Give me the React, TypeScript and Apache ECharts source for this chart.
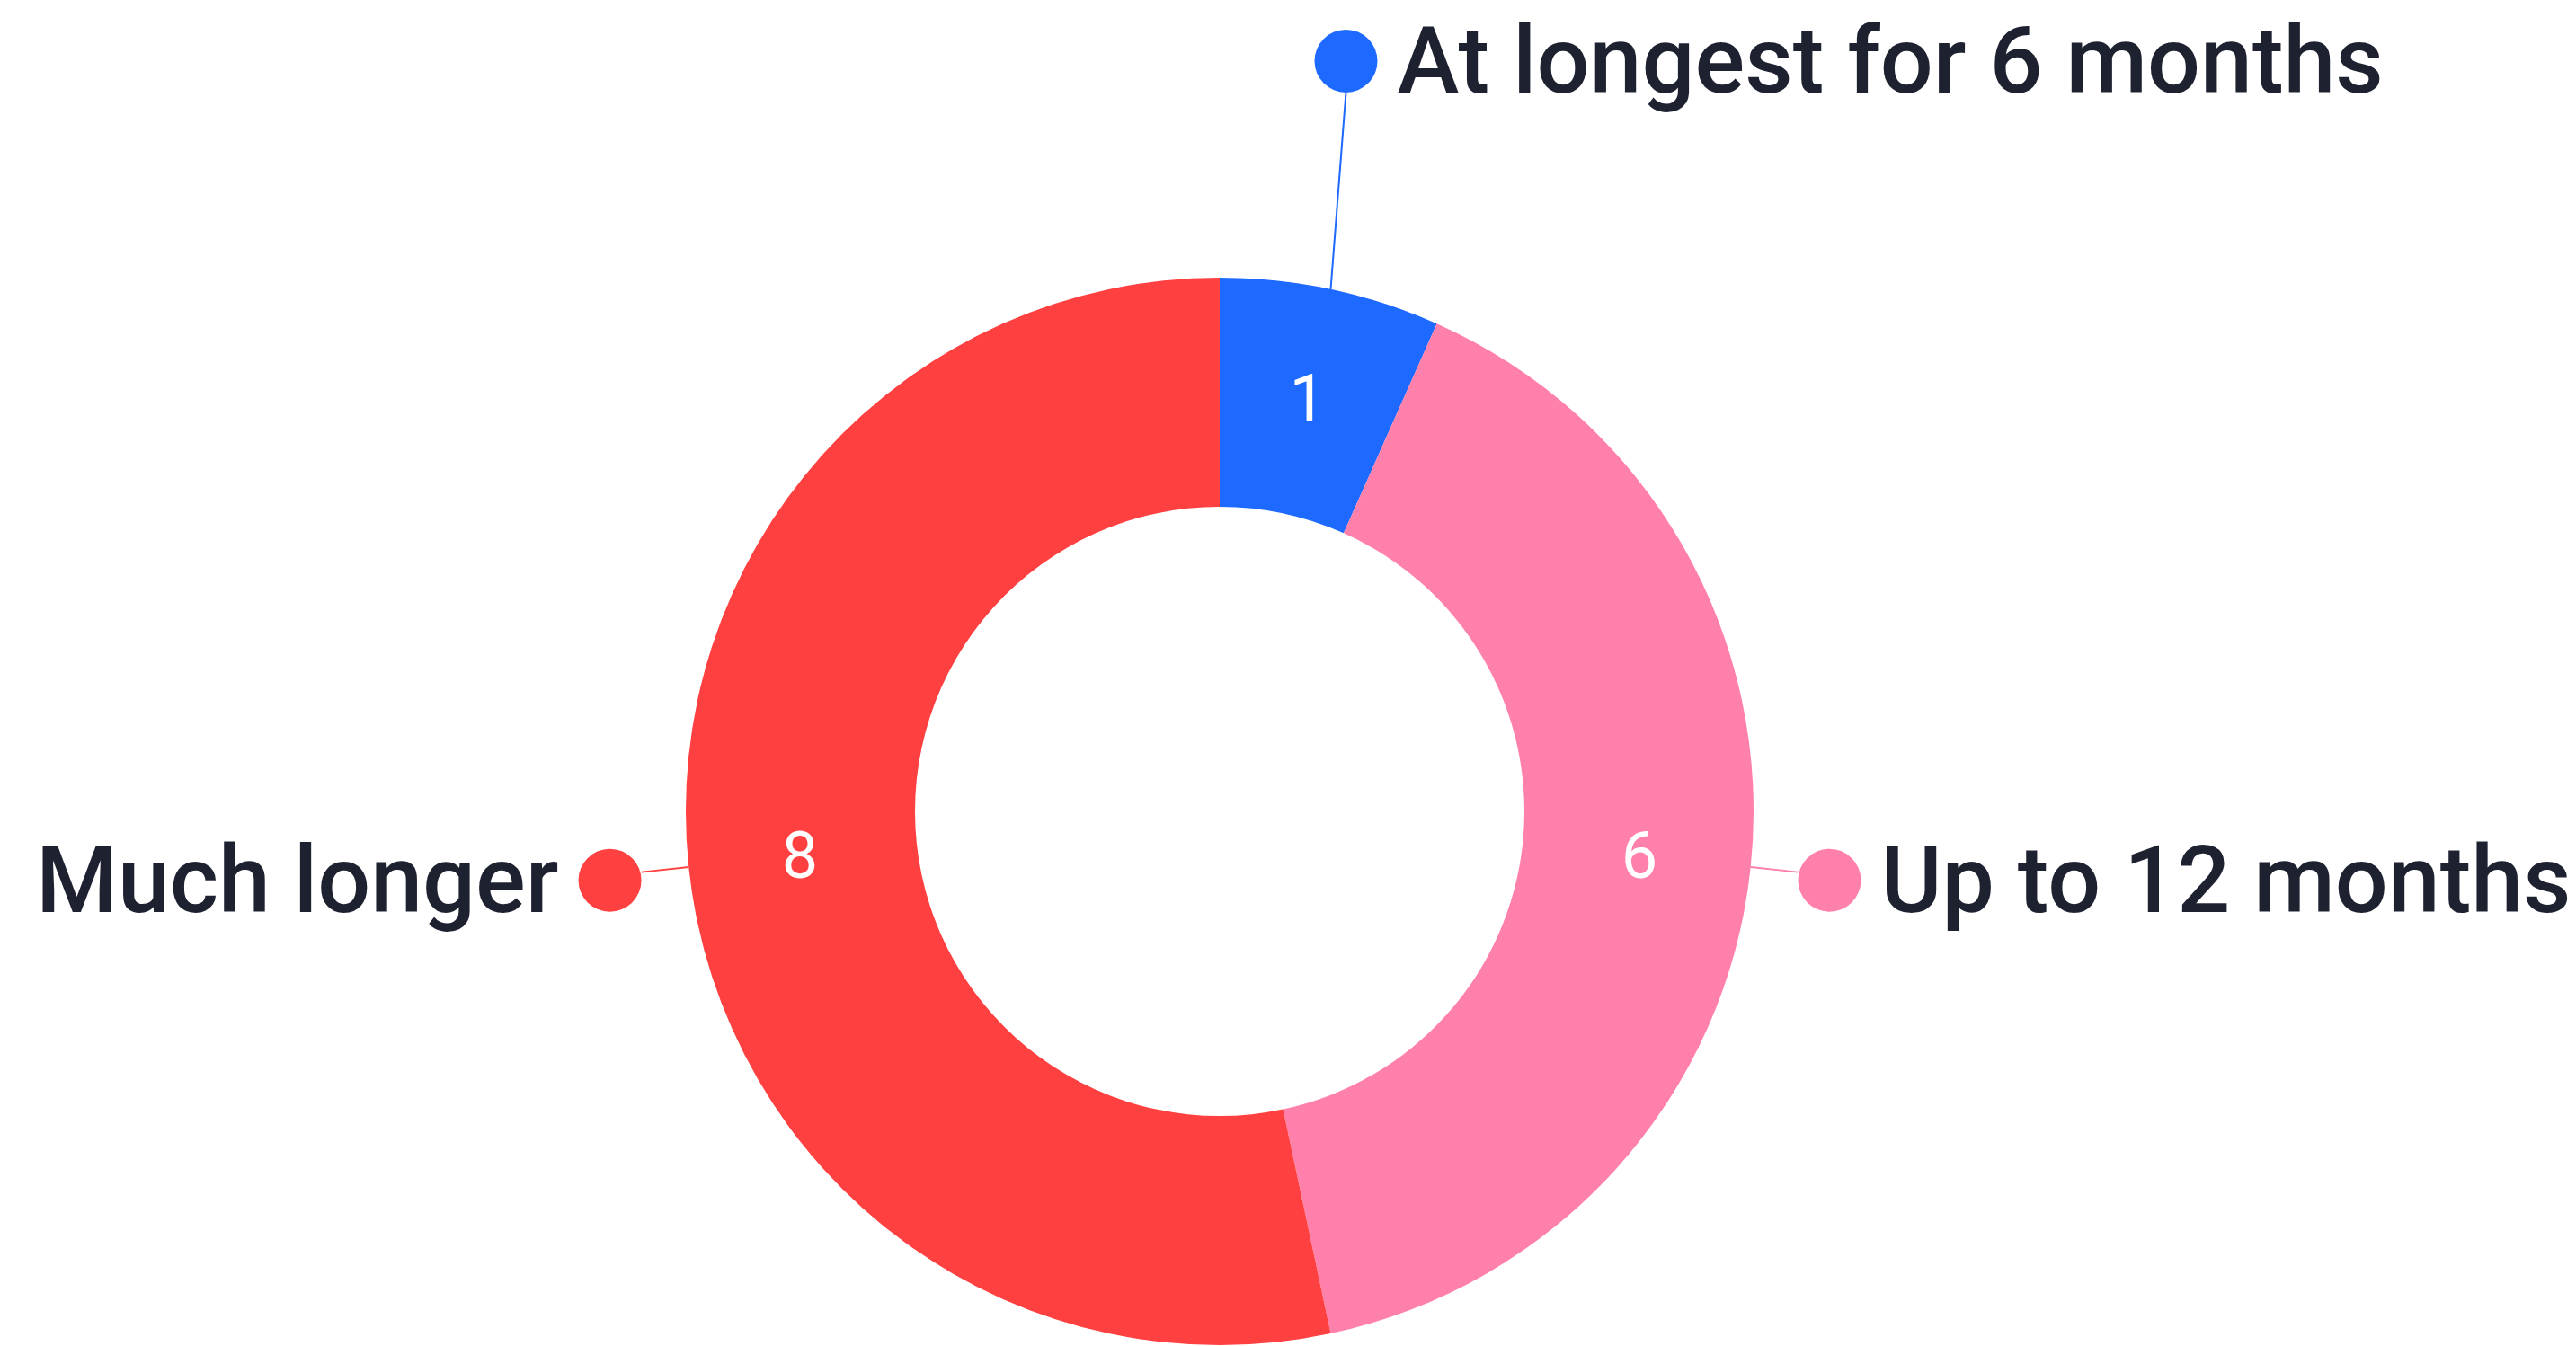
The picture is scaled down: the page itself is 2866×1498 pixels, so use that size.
import React, { useEffect, useRef } from "react";
import * as echarts from "echarts";

const categories = ["At longest for 6 months", "Up to 12 months", "Much longer"];
const values = [1, 6, 8];
const colors = ["#1e69ff", "#ff80aa", "#ff4040"];
const lineLengths = [224, 53, 53];

const TEXT_COLOR = "#1e2230";
const FONT = "Roboto";
const DOT = 70;

export default function App() {
  const ref = useRef<HTMLDivElement>(null);
  useEffect(() => {
    if (!ref.current) return;
    const chart = echarts.init(ref.current, null, { renderer: "svg" });
    const rich: any = {
      t: { fontSize: 104, fontFamily: FONT, fontWeight: 500, color: TEXT_COLOR, verticalAlign: "middle", lineHeight: 100 },
      g: { width: 22, height: 10, verticalAlign: "middle" },
    };
    colors.forEach((c, i) => {
      rich["dot" + i] = { width: DOT, height: DOT, borderRadius: DOT / 2, backgroundColor: c, verticalAlign: "middle" };
    });
    chart.setOption({
      animation: false,
      backgroundColor: "#ffffff",
      series: [
        {
          type: "pie",
          center: [1357, 903],
          radius: [339, 594],
          startAngle: 90,
          clockwise: true,
          avoidLabelOverlap: false,
          silent: true,
          data: categories.map((name, i) => ({
            name,
            value: values[i],
            itemStyle: { color: colors[i] },
            labelLine: { length: lineLengths[i], length2: 0 },
          })),
          label: {
            show: true,
            position: "outside",
            distanceToLabelLine: 0,
            width: 1000,
            overflow: "none",
            formatter: (p: any) =>
              p.dataIndex === 2
                ? `{t|${p.name}}{g|}{dot${p.dataIndex}|}`
                : `{dot${p.dataIndex}|}{g|}{t|${p.name}}`,
            rich,
          },
          labelLine: { show: true, smooth: false, lineStyle: { width: 2 } },
          labelLayout: (params: any) => {
            const pts = params.labelLinePoints;
            if (!pts) return {};
            if (params.dataIndex === 0) {
              const start = pts[0];
              const endY = pts[1][1];
              const lineX = start[0] + 17;
              return {
                x: lineX - DOT / 2,
                y: endY - DOT / 2,
                labelLinePoints: [start, [lineX, endY], [lineX, endY]],
              };
            }
            return { dy: 9, labelLinePoints: pts };
          },
        },
        {
          type: "pie",
          center: [1357, 903],
          radius: [339, 594],
          startAngle: 90,
          clockwise: true,
          silent: true,
          data: categories.map((name, i) => ({
            name,
            value: values[i],
            itemStyle: { color: "rgba(0,0,0,0)" },
          })),
          label: {
            show: true,
            position: "inside",
            formatter: "{c}",
            color: "#ffffff",
            fontSize: 72,
            fontFamily: FONT,
          },
          labelLine: { show: false },
        },
      ],
    });
    return () => chart.dispose();
  }, []);
  return (
    <div
      ref={ref}
      style={{ position: "fixed", left: 0, top: 0, width: 2866, height: 1498, background: "#fff" }}
    />
  );
}
